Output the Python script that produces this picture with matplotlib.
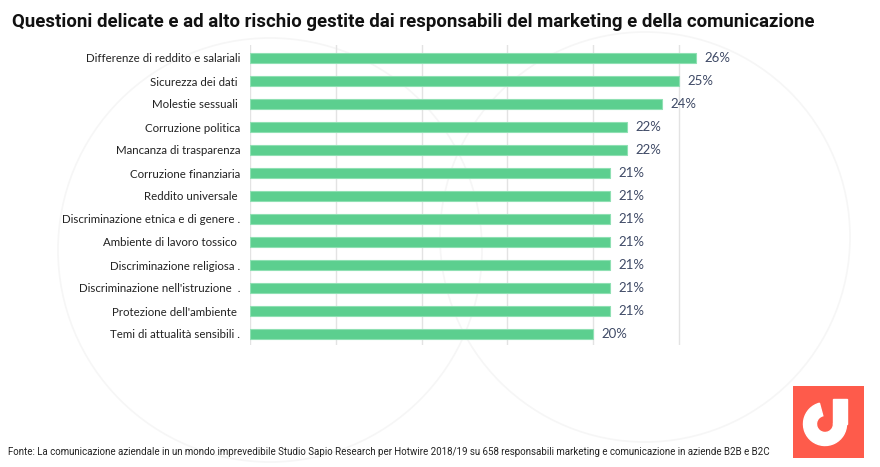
import numpy as np
import matplotlib.pyplot as plt
from matplotlib.patches import Circle, Wedge, Rectangle

# dati
categorie = [
    "Differenze di reddito e salariali",
    "Sicurezza dei dati ",
    "Molestie sessuali ",
    "Corruzione politica",
    "Mancanza di trasparenza",
    "Corruzione finanziaria",
    "Reddito universale ",
    "Discriminazione etnica e di genere .",
    "Ambiente di lavoro tossico ",
    "Discriminazione religiosa .",
    "Discriminazione nell'istruzione  .",
    "Protezione dell'ambiente ",
    "Temi di attualità sensibili .",
]
valori = [26, 25, 24, 22, 22, 21, 21, 21, 21, 21, 21, 21, 20]
griglia = [0, 5, 10, 15, 20, 25]

titolo = "Questioni delicate e ad alto rischio gestite dai responsabili del marketing e della comunicazione"
fonte = ("Fonte: La comunicazione aziendale in un mondo imprevedibile Studio Sapio Research per Hotwire "
         "2018/19 su 658 responsabili marketing e comunicazione in aziende B2B e B2C")

W, H = 880, 467
fig = plt.figure(figsize=(W / 100, H / 100), dpi=100)

# sfondo con cerchi sbiaditi
bg = fig.add_axes([0, 0, 1, 1], zorder=0)
bg.set_xlim(0, W)
bg.set_ylim(H, 0)
bg.axis("off")
for cx, cy, r in [(270, 250, 212), (645, 237, 205)]:
    bg.add_patch(Circle((cx, cy), r, fill=False, ec="#f6f6f6", lw=1.2))

# grafico
left, right = 250 / W, (250 + 30 * 17.15) / W
top, bottom = 45, 345
ax = fig.add_axes([left, 1 - bottom / H, right - left, (bottom - top) / H], zorder=1)
ax.patch.set_alpha(0)
y = np.arange(len(categorie))
for g in griglia:
    ax.axvline(g, color="#e3e3e3", lw=1, zorder=0)
ax.barh(y, valori, height=0.45, color="#5ccf8f", edgecolor="#8fe0b3", lw=0.8, zorder=2)
for yi, v in zip(y, valori):
    ax.text(v + 0.5, yi, f"{v}%", va="center", ha="left", fontsize=9.5,
            color="#3f4a66", family="Lato")
ax.set_xlim(0, 30)
ax.set_ylim(len(categorie) - 1 + 11 / 23, -13 / 23)
ax.set_yticks(y)
ax.set_yticklabels(categorie, fontsize=8.3, color="#222222", family="Lato")
ax.tick_params(axis="y", length=0, pad=7)
ax.set_xticks([])
for s in ax.spines.values():
    s.set_visible(False)

fig.text(12 / W, 1 - 22 / H, titolo, fontsize=13.4, fontweight="bold",
         color="#111111", va="center", ha="left", family="Roboto")
fig.text(8 / W, 1 - 452 / H, fonte, fontsize=7.0, color="#222222",
         va="center", ha="left", family="Roboto")

# logo
lg = fig.add_axes([793 / W, 1 - 458 / H, 71 / W, 72 / H], zorder=2)
lg.set_xlim(0, 71)
lg.set_ylim(0, 72)
lg.axis("off")
lg.add_patch(Rectangle((0, 0), 71, 72, color="#fe5b4b"))
lg.add_patch(Wedge((32, 34), 21.5, 105, 360, width=13, color="white"))
lg.add_patch(Rectangle((40, 34), 13.5, 25, color="white"))

fig.savefig("out.png", dpi=100)
